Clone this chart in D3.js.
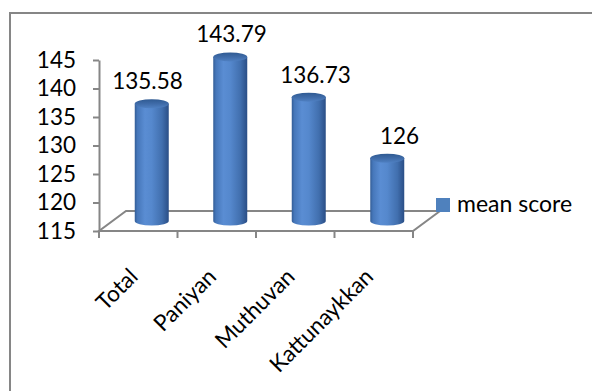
<!DOCTYPE html>
<html><head><meta charset="utf-8">
<script src="https://cdn.jsdelivr.net/npm/d3@7"></script>
<style>
body{margin:0;background:#fff}
svg{display:block}
text{font-family:Lato,"Open Sans",sans-serif;fill:#000}
</style>
</head><body>
<svg id="c" width="592" height="391"></svg>
<script>
const categories = ["Total", "Paniyan", "Muthuvan", "Kattunaykkan"];
const meanScore = [135.58, 143.79, 136.73, 126];
const valueLabels = ["135.58", "143.79", "136.73", "126"];
const yTicks = [115, 120, 125, 130, 135, 140, 145];
const seriesName = "mean score";

const svg = d3.select("#c");
const left = 99, right = 413, floorY = 231, topY = 60;
const dx = 27, dy = -20;           // 3D depth offset
const axisColor = "#868686";
const fontSize = 22.5;

const y = d3.scaleLinear().domain([115, 145]).range([floorY, topY]);
const x = d3.scaleBand().domain(categories).range([left, right]).padding(0);
const bw = x.bandwidth();
const rx = 17, ry = 4.5;

// outer chart border (extends beyond the picture)
svg.append("rect").attr("x", 10).attr("y", 13).attr("width", 700).attr("height", 500)
  .attr("fill", "none").attr("stroke", axisColor).attr("stroke-width", 2);

// floor
const floor = svg.append("g").attr("stroke", axisColor).attr("stroke-width", 2).attr("fill", "none");
floor.append("path").attr("d",
  `M${left},${floorY}L${right},${floorY}L${right+dx},${floorY+dy}L${left+dx},${floorY+dy}Z`);
const edges = categories.map(c => x(c)).concat([x(categories[categories.length-1]) + bw]);
floor.selectAll("line.ct").data(edges).join("line").attr("class", "ct")
  .attr("x1", d => d).attr("x2", d => d).attr("y1", floorY).attr("y2", floorY + 7);

// y axis
const yAxis = svg.append("g").attr("transform", `translate(${left},0)`)
  .call(d3.axisLeft(y).tickValues(yTicks).tickSize(6).tickSizeOuter(0).tickPadding(17));
yAxis.select(".domain").attr("stroke", axisColor).attr("stroke-width", 2);
yAxis.selectAll(".tick line").attr("stroke", axisColor).attr("stroke-width", 2);
yAxis.selectAll(".tick text").attr("font-size", fontSize).attr("font-family", "Lato").attr("fill", "#000");

// gradients
const defs = svg.append("defs");
const side = defs.append("linearGradient").attr("id", "side").attr("x1", 0).attr("x2", 1).attr("y1", 0).attr("y2", 0);
[[0, "#335d96"], [0.08, "#4677ba"], [0.3, "#5a8dd3"], [0.5, "#5588cd"], [0.8, "#416fae"], [1, "#2a4e86"]]
  .forEach(([o, c]) => side.append("stop").attr("offset", o).attr("stop-color", c));
const topG = defs.append("linearGradient").attr("id", "topg").attr("x1", 0).attr("x2", 0).attr("y1", 0).attr("y2", 1);
[[0, "#2f5a92"], [0.5, "#3f6ba8"], [1, "#4f80c2"]]
  .forEach(([o, c]) => topG.append("stop").attr("offset", o).attr("stop-color", c));

const data = categories.map((c, i) => ({c, v: meanScore[i], label: valueLabels[i], i}));
const cx = d => x(d.c) + bw / 2 + dx / 2;
const baseY = floorY + dy / 2;
const topYOf = d => y(d.v) + dy / 2;

const bars = svg.append("g");
bars.selectAll("path.side").data(data).join("path").attr("class", "side")
  .attr("fill", "url(#side)")
  .attr("d", d => `M${cx(d)-rx},${topYOf(d)}L${cx(d)-rx},${baseY}A${rx},${ry} 0 0 0 ${cx(d)+rx},${baseY}L${cx(d)+rx},${topYOf(d)}Z`);
bars.selectAll("ellipse.top").data(data).join("ellipse").attr("class", "top")
  .attr("cx", cx).attr("cy", topYOf).attr("rx", rx).attr("ry", ry)
  .attr("fill", "url(#topg)");

// value labels
svg.append("g").selectAll("text").data(data).join("text")
  .attr("x", d => cx(d) + (d.i - 1.5) * 5.5 + 4)
  .attr("y", d => topYOf(d) - ry - 10)
  .attr("text-anchor", "middle").attr("font-size", fontSize)
  .text(d => d.label);

// category labels
svg.append("g").selectAll("text").data(categories).join("text")
  .attr("text-anchor", "end").attr("font-size", fontSize)
  .attr("transform", c => `translate(${x(c) + bw / 2 + 1},278) rotate(-45)`)
  .text(c => c);

// legend
svg.append("rect").attr("x", 436).attr("y", 198).attr("width", 14).attr("height", 14).attr("fill", "#4f81bd");
svg.append("text").attr("x", 457).attr("y", 211.5).attr("font-size", 23).text(seriesName);
</script>
</body></html>
